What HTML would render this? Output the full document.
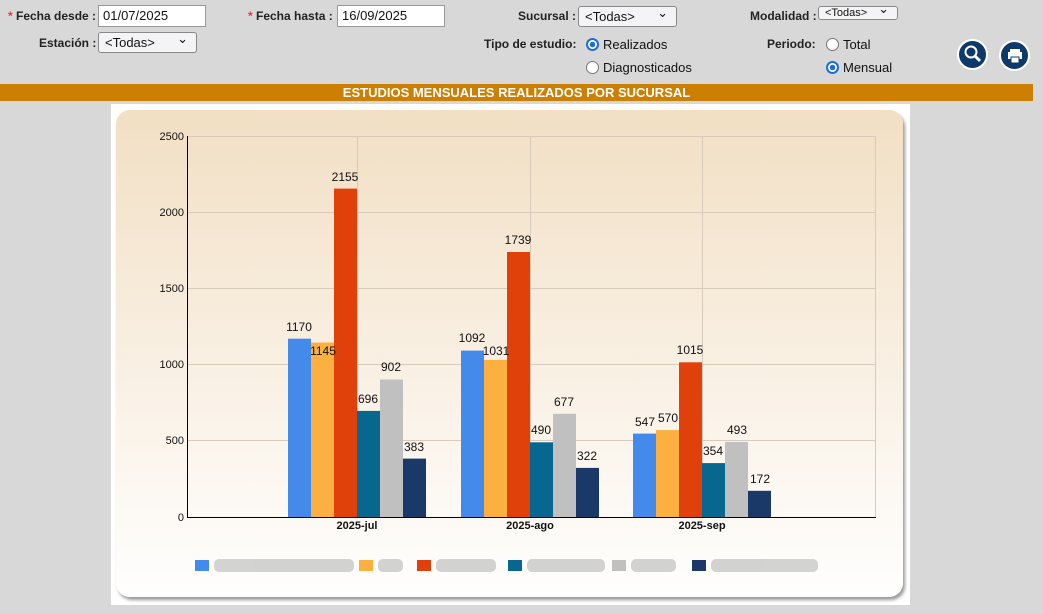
<!DOCTYPE html>
<html><head><meta charset="utf-8"><style>
body{margin:0;width:1043px;height:614px;background:#d8d8d8;font-family:"Liberation Sans",Arial,sans-serif;position:relative;overflow:hidden}
.a{position:absolute;font-size:12px;font-weight:bold;color:#222}
.r{color:#e33}
.in{position:absolute;background:#fff;border:1px solid #999;font-size:13px;padding:0 4px;box-sizing:border-box;height:22px;line-height:20px;color:#111}
.sel{position:absolute;background:#f4f4f6;border:1px solid #888;border-radius:3px;font-size:13px;padding-left:6px;box-sizing:border-box;height:21px;line-height:19px;color:#111}
.sel:after{content:"⌄";position:absolute;right:8px;top:-4px;font-size:13px}
.rad{position:absolute;font-size:13px;color:#111}
.rad i{display:inline-block;width:13px;height:13px;border:1px solid #777;border-radius:50%;background:#fff;vertical-align:-2px;margin-right:4px;box-sizing:border-box}
.rad i.on{border:2px solid #1a6fd6;background:radial-gradient(circle,#1a6fd6 0 2.5px,#fff 3px)}
.btn{position:absolute;width:31px;height:31px;border-radius:50%;background:#0d3a6b;border:2px solid #fff;box-sizing:border-box}
</style></head><body>
<div class="a" style="left:8px;top:9px"><span class="r">*</span> Fecha desde :</div>
<div class="in" style="left:98px;top:5px;width:108px">01/07/2025</div>
<div class="a" style="left:248px;top:9px"><span class="r">*</span> Fecha hasta :</div>
<div class="in" style="left:337px;top:5px;width:108px">16/09/2025</div>
<div class="a" style="left:518px;top:9px">Sucursal :</div>
<div class="sel" style="left:578px;top:6px;width:99px">&lt;Todas&gt;</div>
<div class="a" style="left:750px;top:9px">Modalidad :</div>
<div class="sel" style="left:818px;top:6px;width:80px;height:14px;line-height:12px;font-size:11px">&lt;Todas&gt;</div>
<div class="a" style="left:39px;top:36px">Estación :</div>
<div class="sel" style="left:98px;top:32px;width:99px">&lt;Todas&gt;</div>
<div class="a" style="left:484px;top:37px">Tipo de estudio:</div>
<div class="rad" style="left:586px;top:37px"><i class="on"></i>Realizados</div>
<div class="rad" style="left:586px;top:60px"><i></i>Diagnosticados</div>
<div class="a" style="left:767px;top:37px">Periodo:</div>
<div class="rad" style="left:826px;top:37px"><i></i>Total</div>
<div class="rad" style="left:826px;top:60px"><i class="on"></i>Mensual</div>
<div class="btn" style="left:957px;top:39px"><svg width="27" height="27"><circle cx="12" cy="11" r="5.5" fill="none" stroke="#fff" stroke-width="2"/><line x1="16" y1="15" x2="21" y2="20" stroke="#fff" stroke-width="3"/></svg></div>
<div class="btn" style="left:999px;top:40px"><svg width="27" height="27"><rect x="7" y="10" width="14" height="7" fill="#fff"/><rect x="9" y="7" width="10" height="4" fill="#fff"/><rect x="10" y="15" width="8" height="6" fill="#fff" stroke="#0d3a6b"/></svg></div>
<div style="position:absolute;left:0;top:84px;width:1033px;height:17px;background:#cc7f00;color:#fff;font-weight:bold;font-size:13px;text-align:center;line-height:17px">ESTUDIOS MENSUALES REALIZADOS POR SUCURSAL</div>
<div style="position:absolute;left:111px;top:104px;width:799px;height:501px;background:#fff"></div>
<div style="position:absolute;left:116px;top:110px;width:787px;height:487px;border-radius:14px;background:linear-gradient(#f2dfc4,#fdfaf6 85%,#fefefe);box-shadow:2px 3px 3px #999"></div>
<svg style="position:absolute;left:0;top:0" width="1043" height="614" font-family="Liberation Sans,Arial,sans-serif">
<g stroke="#d8cbbb" stroke-width="1">
<line x1="187" y1="136.5" x2="875" y2="136.5"/><line x1="187" y1="212.5" x2="875" y2="212.5"/><line x1="187" y1="288.5" x2="875" y2="288.5"/><line x1="187" y1="364.5" x2="875" y2="364.5"/><line x1="187" y1="440.5" x2="875" y2="440.5"/>
<line x1="357.5" y1="136" x2="357.5" y2="517"/><line x1="530.5" y1="136" x2="530.5" y2="517"/><line x1="702.5" y1="136" x2="702.5" y2="517"/><line x1="875.5" y1="136" x2="875.5" y2="517"/>
</g>
<g font-size="11" text-anchor="end" fill="#111"><text x="184" y="140">2500</text><text x="184" y="216">2000</text><text x="184" y="292">1500</text><text x="184" y="368">1000</text><text x="184" y="444">500</text><text x="184" y="521">0</text></g>
<g>
<rect x="288" y="338.7" width="23" height="178.3" fill="#448aea"/><rect x="311" y="342.5" width="23" height="174.5" fill="#fbb040"/><rect x="334" y="188.6" width="23" height="328.4" fill="#e0400a"/><rect x="357" y="410.9" width="23" height="106.1" fill="#08678f"/><rect x="380" y="379.5" width="23" height="137.5" fill="#c0c0c0"/><rect x="403" y="458.6" width="23" height="58.4" fill="#1a3868"/>
<rect x="461" y="350.6" width="23" height="166.4" fill="#448aea"/><rect x="484" y="359.9" width="23" height="157.1" fill="#fbb040"/><rect x="507" y="252" width="23" height="265" fill="#e0400a"/><rect x="530" y="442.3" width="23" height="74.7" fill="#08678f"/><rect x="553" y="413.8" width="23" height="103.2" fill="#c0c0c0"/><rect x="576" y="467.9" width="23" height="49.1" fill="#1a3868"/>
<rect x="633" y="433.6" width="23" height="83.4" fill="#448aea"/><rect x="656" y="430.1" width="23" height="86.9" fill="#fbb040"/><rect x="679" y="362.3" width="23" height="154.7" fill="#e0400a"/><rect x="702" y="463.1" width="23" height="53.9" fill="#08678f"/><rect x="725" y="441.9" width="23" height="75.1" fill="#c0c0c0"/><rect x="748" y="490.8" width="23" height="26.2" fill="#1a3868"/>
</g>
<g font-size="12" text-anchor="middle" fill="#111">
<text x="299" y="331">1170</text><text x="323" y="355">1145</text><text x="345" y="181">2155</text><text x="368" y="403">696</text><text x="391" y="371">902</text><text x="414" y="451">383</text>
<text x="472" y="342">1092</text><text x="496" y="355">1031</text><text x="518" y="244">1739</text><text x="541" y="434">490</text><text x="564" y="406">677</text><text x="587" y="460">322</text>
<text x="645" y="426">547</text><text x="668" y="422">570</text><text x="690" y="354">1015</text><text x="713" y="455">354</text><text x="737" y="434">493</text><text x="760" y="483">172</text>
</g>
<line x1="187.5" y1="136" x2="187.5" y2="518" stroke="#000"/><line x1="187" y1="517.5" x2="876" y2="517.5" stroke="#000"/>
<g font-size="11" font-weight="bold" text-anchor="middle" fill="#111"><text x="357" y="529">2025-jul</text><text x="530" y="529">2025-ago</text><text x="702" y="529">2025-sep</text></g>
<g><rect x="195" y="560" width="14" height="11" fill="#448aea"/><rect x="359" y="560" width="14" height="11" fill="#fbb040"/><rect x="417" y="560" width="14" height="11" fill="#e0400a"/><rect x="508" y="560" width="14" height="11" fill="#08678f"/><rect x="612" y="560" width="14" height="11" fill="#c0c0c0"/><rect x="692" y="560" width="14" height="11" fill="#1a3868"/></g>
<g fill="#c8c8c8" opacity="0.8"><rect x="214" y="559" width="140" height="13" rx="5"/><rect x="378" y="559" width="25" height="13" rx="5"/><rect x="436" y="559" width="60" height="13" rx="5"/><rect x="527" y="559" width="78" height="13" rx="5"/><rect x="631" y="559" width="45" height="13" rx="5"/><rect x="711" y="559" width="107" height="13" rx="5"/></g>
</svg>
</body></html>
